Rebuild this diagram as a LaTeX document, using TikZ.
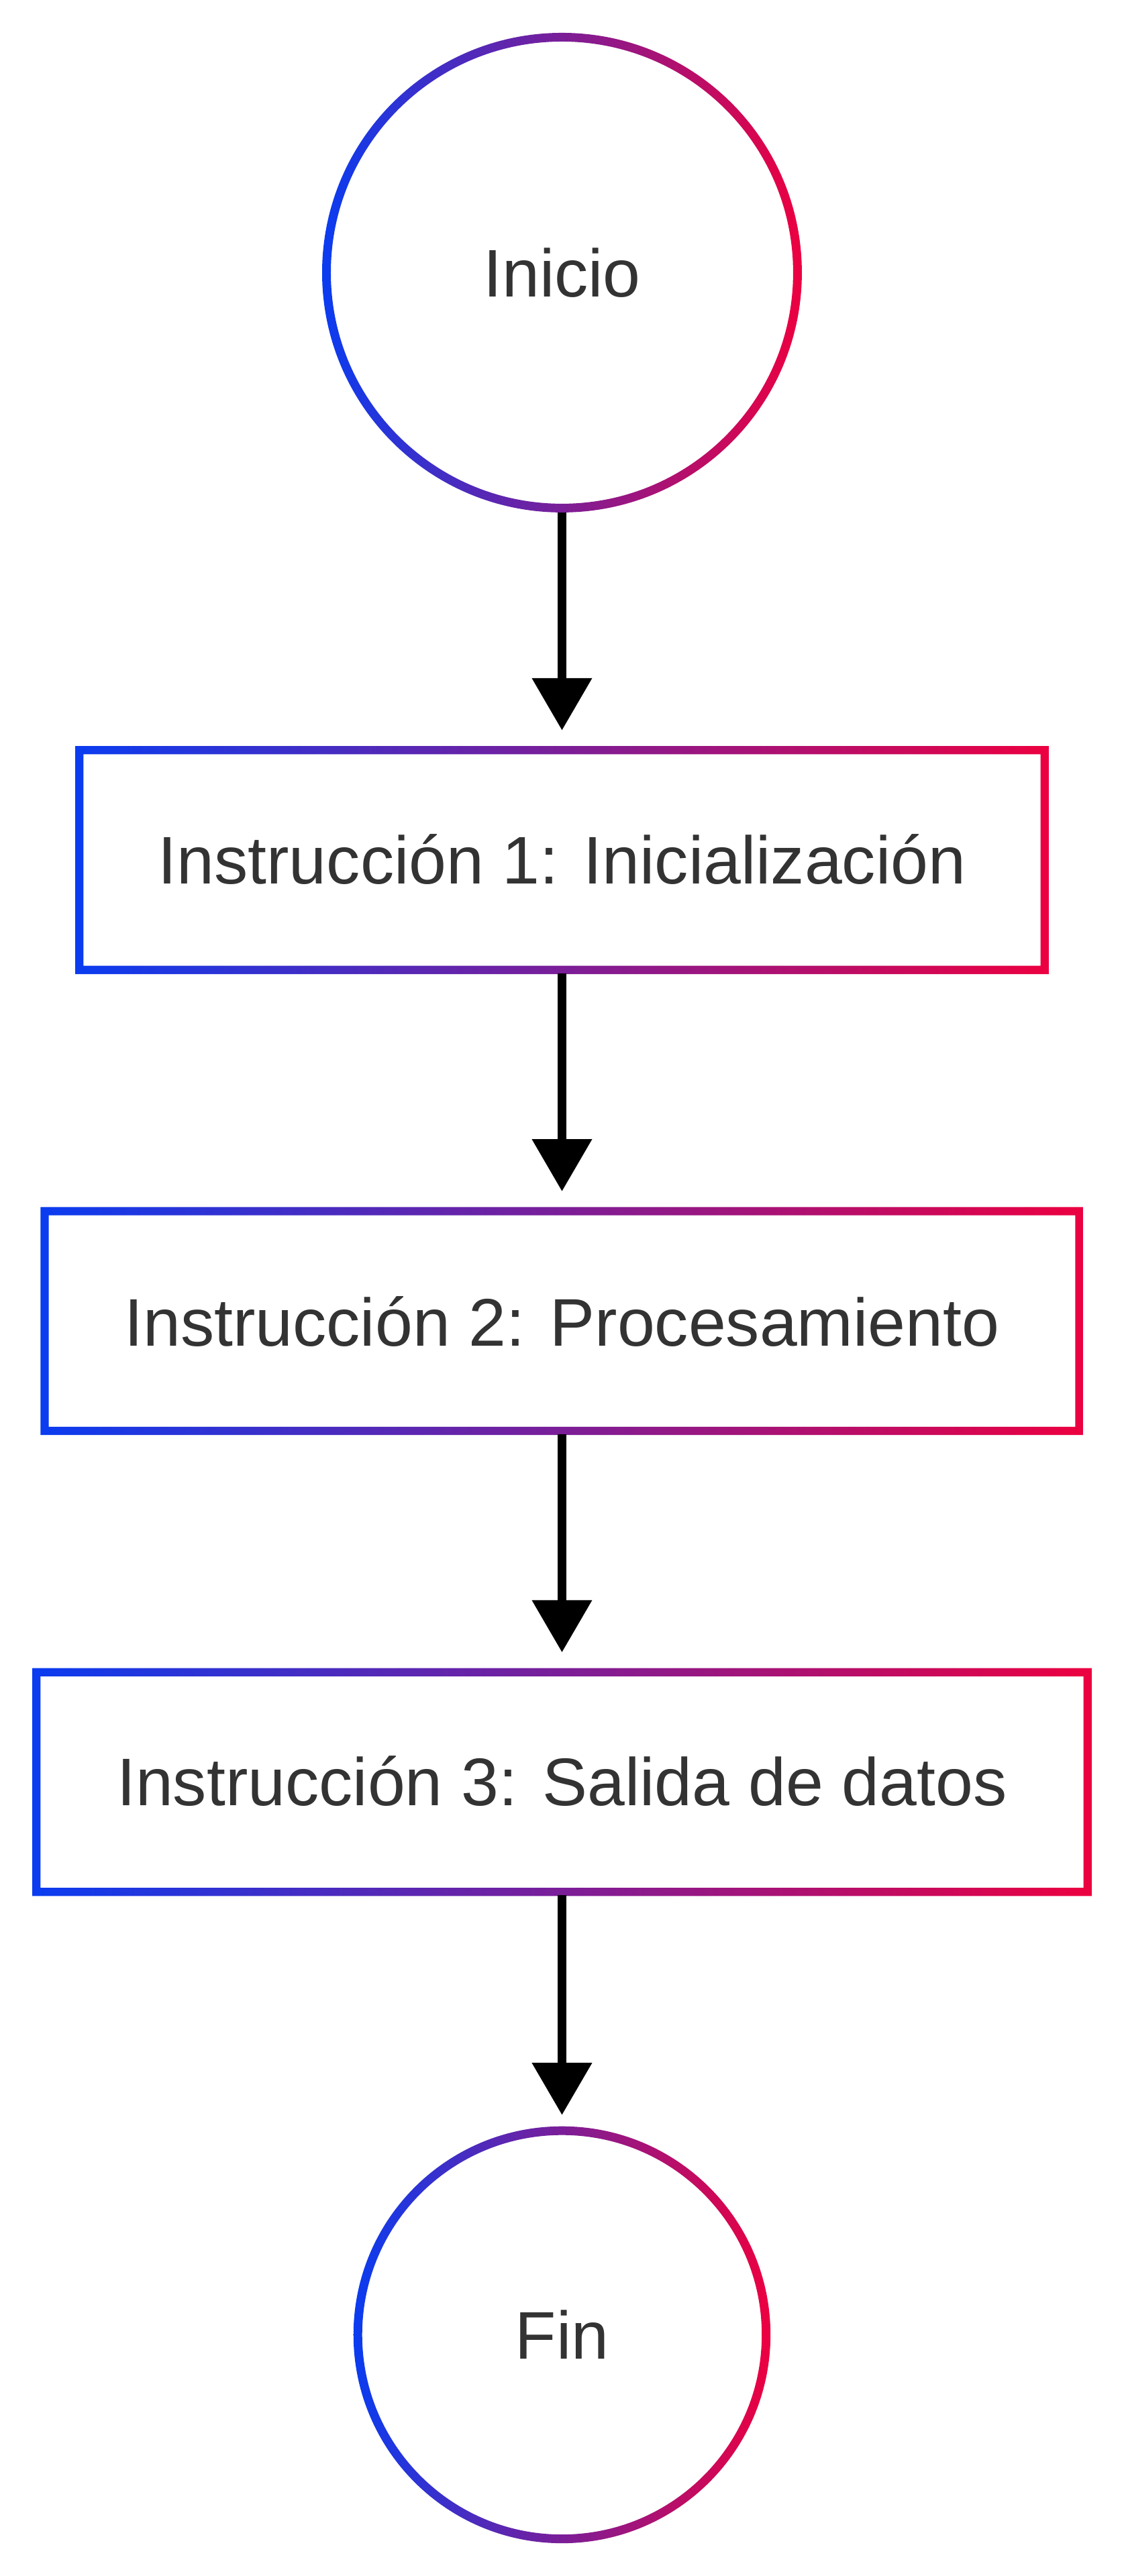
\documentclass[tikz,border=0pt]{standalone}
\usepackage{fontspec}
\setmainfont{Liberation Sans}
\usetikzlibrary{positioning,arrows.meta}
\definecolor{gblue}{HTML}{0A3CF0}
\definecolor{gred}{HTML}{EC0040}
\definecolor{txt}{HTML}{333333}
\tikzset{
  stepnode/.style={font=\fontsize{23.2}{27}\selectfont, text=txt},
  flow/.style={-{Triangle[length=18pt,width=20pt]}, line width=3pt, black},
}
% gradient outline of a circle
\newcommand{\gradcirc}[2]{%
  \shade[left color=gblue, right color=gred, even odd rule]
    (#1) circle[radius=#2+1.5pt] (#1) circle[radius=#2-1.5pt];}
\begin{document}
\begin{tikzpicture}[x=0.02cm, y=-0.02cm]
  \useasboundingbox[fill=white] (0,0) rectangle (680,1559);

  % nodes
  \node[stepnode] (start) at (340,165) {Inicio};
  \node[stepnode] (init) at (340,520) {Instrucción 1: Inicialización};
  \node[stepnode] (proc) at (340,800) {Instrucción 2: Procesamiento};
  \node[stepnode] (out) at (340,1078) {Instrucción 3: Salida de datos};
  \node[stepnode] (end) at (340,1413) {Fin};

  % outlines
  \shade[left color=gblue, right color=gred, even odd rule]
    (45.5,589.5) rectangle (634.5,451.5) (50.5,584.5) rectangle (629.5,456.5);
  \shade[left color=gblue, right color=gred, even odd rule]
    (24.5,868.5) rectangle (655.5,730.5) (29.5,863.5) rectangle (650.5,735.5);
  \shade[left color=gblue, right color=gred, even odd rule]
    (19.5,1147.5) rectangle (660.5,1009.5) (24.5,1142.5) rectangle (655.5,1014.5);
  \gradcirc{start}{81.1pt}
  \gradcirc{end}{70.3pt}

  % arrows
  \coordinate (c1) at (340,310); \coordinate (c2) at (340,589);
  \coordinate (c3) at (340,868); \coordinate (c4) at (340,1147);
  \draw[flow] (c1) -- (340,442);
  \draw[flow] (c2) -- (340,721);
  \draw[flow] (c3) -- (340,1000);
  \draw[flow] (c4) -- (340,1280);
\end{tikzpicture}
\end{document}
